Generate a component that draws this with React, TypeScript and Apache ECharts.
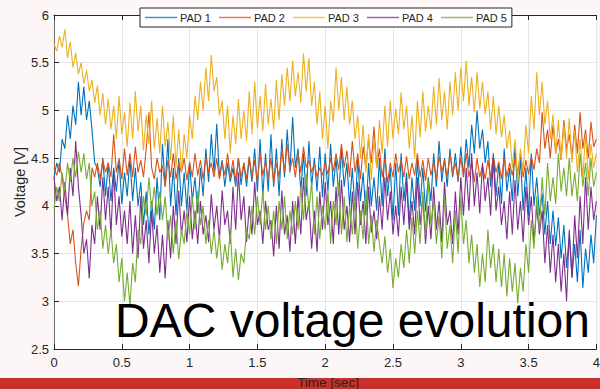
import React, { useEffect, useRef } from "react";
import * as echarts from "echarts";

// sample spacing of the recorded signals [sec]
const DT = 0.02;

const seriesNames = ["PAD 1", "PAD 2", "PAD 3", "PAD 4", "PAD 5"];
const seriesColors = ["#0072BD", "#D95319", "#EDB120", "#7E2F8E", "#77AC30"];
const xTicks = { min: 0, max: 4, interval: 0.5 };
const yTicks = { min: 2.5, max: 6, interval: 0.5 };

const pad1 = [
  4.30, 4.45, 4.35, 4.70, 4.60, 4.95, 4.70, 5.05, 4.85, 5.30,
  4.95, 5.25, 4.90, 5.10, 4.80, 4.45, 4.40, 4.20, 4.50, 4.10,
  4.45, 4.05, 4.40, 4.15, 4.48, 4.02, 4.35, 4.10, 4.50, 4.05,
  4.40, 4.00, 4.25, 3.80, 4.15, 3.70, 4.05, 3.75, 4.30, 3.85,
  4.65, 4.20, 4.70, 4.00, 4.40, 3.90, 4.50, 4.00, 4.35, 3.95,
  4.45, 4.05, 4.30, 3.92, 4.40, 4.10, 4.60, 4.25, 4.75, 4.35,
  4.86, 4.30, 4.48, 4.20, 4.45, 4.25, 4.40, 4.20, 4.50, 4.22,
  4.45, 4.20, 4.50, 4.25, 4.60, 4.15, 4.70, 4.10, 4.55, 4.15,
  4.75, 4.20, 4.60, 4.10, 4.70, 4.30, 4.80, 4.35, 4.93, 4.40,
  4.60, 4.15, 4.55, 4.10, 4.68, 4.20, 4.50, 4.15, 4.62, 4.09,
  4.55, 4.15, 4.65, 4.20, 4.50, 4.10, 4.60, 4.20, 4.45, 4.00,
  4.40, 3.95, 4.50, 4.05, 4.35, 3.90, 4.45, 4.00, 4.30, 3.95,
  4.50, 4.00, 4.60, 4.10, 4.40, 3.85, 4.45, 3.90, 4.55, 4.05,
  4.35, 3.82, 4.30, 3.95, 4.50, 4.00, 4.40, 3.94, 4.30, 4.05,
  4.55, 4.20, 4.68, 4.25, 4.50, 4.20, 4.60, 4.30, 4.55, 4.25,
  4.62, 4.30, 4.70, 4.40, 4.85, 4.55, 5.00, 4.60, 4.80, 4.45,
  4.68, 4.20, 4.55, 4.10, 4.45, 4.02, 4.60, 4.15, 4.40, 4.05,
  4.65, 4.10, 4.50, 3.95, 4.40, 3.90, 4.55, 4.00, 4.30, 3.90,
  4.13, 3.70, 4.05, 3.60, 3.95, 3.58, 3.88, 3.45, 3.80, 3.35,
  3.70, 3.25, 3.60, 3.20, 3.75, 3.14, 3.55, 3.30, 3.70, 3.40,
  3.90,
];

const pad2 = [
  4.40, 4.32, 4.45, 4.30, 4.10, 3.90, 3.60, 3.75, 3.40, 3.16,
  3.55, 3.82, 3.95, 3.85, 4.40, 4.30, 4.45, 4.28, 4.48, 4.35,
  4.45, 4.30, 4.75, 4.35, 4.50, 4.28, 4.60, 4.32, 4.55, 4.30,
  4.62, 4.35, 4.48, 4.30, 4.60, 4.98, 4.40, 4.28, 4.50, 4.35,
  4.42, 4.20, 4.48, 4.30, 4.55, 4.28, 4.45, 4.35, 4.50, 4.27,
  4.46, 4.30, 4.55, 4.32, 4.48, 4.28, 4.52, 4.35, 4.45, 4.30,
  4.50, 4.28, 4.45, 4.32, 4.55, 4.30, 4.48, 4.26, 4.50, 4.30,
  4.45, 4.28, 4.52, 4.30, 4.48, 4.25, 4.55, 4.32, 4.46, 4.28,
  4.50, 4.24, 4.45, 4.30, 4.60, 4.35, 4.65, 4.38, 4.50, 4.30,
  4.55, 4.35, 4.62, 4.40, 4.48, 4.35, 4.45, 4.30, 4.40, 4.32,
  4.45, 4.33, 4.50, 4.36, 4.55, 4.38, 4.65, 4.40, 4.58, 4.30,
  4.68, 4.35, 4.55, 4.28, 4.62, 4.40, 4.70, 4.45, 4.83, 4.40,
  4.60, 4.30, 4.50, 4.24, 4.45, 4.30, 4.55, 4.35, 4.48, 4.30,
  4.52, 4.28, 4.45, 4.32, 4.55, 4.30, 4.48, 4.26, 4.50, 4.32,
  4.46, 4.28, 4.52, 4.35, 4.48, 4.30, 4.55, 4.33, 4.45, 4.28,
  4.50, 4.32, 4.55, 4.30, 4.46, 4.25, 4.50, 4.30, 4.42, 4.28,
  4.48, 4.30, 4.52, 4.35, 4.46, 4.28, 4.50, 4.30, 4.45, 4.32,
  4.50, 4.35, 4.55, 4.30, 4.48, 4.33, 4.52, 4.38, 4.60, 4.45,
  4.98, 4.60, 4.80, 4.50, 4.85, 4.55, 4.70, 4.48, 4.90, 4.60,
  4.75, 4.50, 4.85, 4.55, 4.98, 4.60, 4.80, 4.50, 4.88, 4.62,
  4.70,
];

const pad3 = [
  5.70, 5.62, 5.78, 5.66, 5.85, 5.55, 5.72, 5.45, 5.60, 5.38,
  5.50, 5.28, 5.42, 5.20, 5.32, 5.08, 5.26, 4.95, 5.18, 4.85,
  5.12, 4.80, 5.05, 4.70, 5.15, 4.75, 4.98, 4.62, 5.08, 4.70,
  5.20, 4.78, 5.05, 4.58, 4.95, 4.65, 5.10, 4.60, 4.92, 4.55,
  5.05, 4.62, 4.88, 4.48, 4.95, 4.40, 4.80, 4.35, 4.75, 4.50,
  4.95, 4.70, 5.15, 4.90, 5.30, 5.00, 5.45, 5.10, 5.58, 5.20,
  5.35, 4.95, 5.10, 4.70, 5.05, 4.55, 4.95, 4.65, 5.12, 4.70,
  5.00, 4.68, 5.20, 4.75, 5.30, 4.82, 5.15, 4.78, 5.28, 4.85,
  5.12, 4.80, 5.32, 4.90, 5.38, 5.05, 5.45, 5.10, 5.52, 5.15,
  5.40, 5.08, 5.60, 5.20, 5.55, 5.05, 5.30, 4.85, 5.20, 4.70,
  5.05, 4.60, 5.10, 4.88, 5.45, 5.00, 5.35, 4.90, 5.25, 4.85,
  5.10, 4.70, 4.95, 4.50, 4.85, 4.35, 4.75, 4.27, 4.70, 4.40,
  4.90, 4.55, 5.05, 4.62, 5.10, 4.70, 5.02, 4.75, 5.19, 4.80,
  5.05, 4.60, 4.95, 4.50, 5.10, 4.72, 5.20, 4.78, 5.05, 4.80,
  5.25, 4.85, 5.34, 4.90, 5.20, 4.80, 5.30, 4.95, 5.40, 5.00,
  5.45, 5.10, 5.52, 5.05, 5.35, 4.98, 5.40, 5.02, 5.30, 4.96,
  5.20, 4.80, 5.15, 4.75, 5.05, 4.72, 4.95, 4.60, 4.79, 4.40,
  4.70, 4.25, 4.60, 4.35, 4.85, 4.55, 5.15, 4.80, 5.40, 4.95,
  5.30, 4.85, 5.10, 4.70, 4.96, 4.55, 4.90, 4.48, 4.85, 4.50,
  4.92, 4.45, 4.79, 4.35, 4.70, 4.30, 4.75, 4.28, 4.65, 4.40,
  4.55,
];

const pad4 = [
  4.30, 4.05, 4.20, 3.85, 4.25, 3.90, 4.40, 4.10, 4.68, 4.20,
  3.90, 3.50, 3.65, 3.24, 3.80, 3.60, 4.10, 3.75, 4.30, 3.85,
  4.20, 3.70, 4.37, 3.80, 4.10, 3.68, 3.95, 3.60, 4.05, 3.50,
  3.90, 3.45, 4.10, 3.55, 3.85, 3.40, 3.95, 3.50, 3.80, 3.30,
  3.70, 3.24, 3.85, 3.45, 4.00, 3.60, 4.16, 3.70, 3.95, 3.62,
  4.10, 3.65, 3.95, 3.60, 4.05, 3.70, 3.90, 3.62, 4.12, 3.75,
  4.00, 3.65, 4.16, 3.80, 3.95, 3.60, 4.20, 3.75, 4.35, 3.85,
  4.10, 3.62, 4.00, 3.70, 4.25, 3.80, 3.95, 3.60, 4.05, 3.75,
  3.85, 3.47, 4.00, 3.55, 4.16, 3.70, 3.90, 3.52, 4.05, 3.60,
  4.10, 3.70, 4.30, 3.85, 4.05, 3.55, 3.95, 3.52, 4.15, 3.75,
  4.25, 3.80, 4.05, 3.60, 4.20, 3.70, 4.27, 3.75, 4.00, 3.62,
  4.15, 3.70, 4.25, 3.80, 4.05, 3.60, 4.20, 3.72, 3.95, 3.65,
  4.10, 3.75, 4.30, 3.85, 4.15, 3.70, 4.00, 3.68, 4.20, 3.80,
  4.25, 3.75, 4.05, 3.70, 4.30, 3.80, 4.10, 3.60, 4.00, 3.65,
  4.20, 3.75, 4.05, 3.62, 4.25, 3.80, 3.95, 3.60, 4.15, 3.70,
  4.30, 3.90, 4.40, 3.95, 4.55, 4.00, 4.35, 3.92, 4.45, 4.05,
  4.30, 3.90, 4.50, 3.95, 4.20, 3.80, 4.05, 3.65, 4.15, 3.70,
  4.27, 3.75, 4.05, 3.62, 4.20, 3.80, 4.10, 3.60, 4.00, 3.70,
  3.95, 3.40, 3.80, 3.30, 3.70, 3.20, 3.60, 3.10, 3.50, 3.00,
  3.75, 3.25, 3.90, 3.45, 4.10, 3.60, 4.30, 3.75, 4.20, 3.85,
  4.05,
];

const pad5 = [
  3.97, 4.20, 4.05, 4.35, 4.15, 4.45, 4.25, 4.50, 4.30, 4.57,
  4.35, 4.55, 4.28, 4.45, 4.00, 4.15, 3.75, 3.95, 3.55, 3.80,
  3.50, 3.75, 3.40, 3.60, 3.20, 3.45, 3.00, 3.30, 2.95, 3.40,
  3.20, 3.75, 3.60, 4.10, 3.90, 4.30, 3.95, 4.20, 3.90, 4.15,
  3.85, 4.10, 3.65, 3.90, 3.50, 3.85, 3.44, 3.75, 3.60, 3.95,
  3.70, 4.10, 3.75, 4.16, 3.80, 4.00, 3.60, 3.85, 3.50, 3.75,
  3.45, 3.70, 3.33, 3.60, 3.40, 3.75, 3.25, 3.55, 3.22, 3.50,
  3.40, 3.75, 3.65, 4.00, 3.70, 4.10, 3.80, 4.16, 3.75, 4.00,
  3.65, 3.95, 3.60, 4.05, 3.75, 4.10, 3.65, 3.95, 3.70, 4.05,
  3.75, 4.20, 3.85, 4.34, 3.95, 4.25, 3.70, 4.10, 3.65, 4.00,
  3.75, 4.15, 3.60, 4.05, 3.80, 4.25, 3.70, 4.10, 3.62, 4.00,
  3.70, 4.10, 3.55, 3.95, 3.65, 4.16, 3.60, 3.90, 3.52, 3.85,
  3.60, 3.40, 3.68, 3.30, 3.55, 3.14, 3.45, 3.25, 3.60, 3.35,
  3.75, 3.40, 3.88, 3.50, 3.95, 3.60, 4.15, 3.70, 4.27, 3.80,
  4.05, 3.60, 3.90, 3.45, 4.10, 3.55, 3.80, 3.40, 3.95, 3.50,
  4.10, 3.60, 3.85, 3.40, 3.70, 3.30, 3.60, 3.15, 3.50, 3.20,
  3.75, 3.35, 3.60, 3.20, 3.55, 3.15, 3.50, 3.05, 3.45, 3.10,
  3.40, 2.98, 3.35, 3.10, 3.60, 3.30, 3.85, 3.55, 4.10, 3.75,
  4.30, 3.90, 4.45, 4.05, 4.30, 4.02, 4.55, 4.15, 4.40, 4.10,
  4.50, 4.10, 4.35, 4.05, 4.55, 4.20, 4.45, 4.10, 4.50, 4.20,
  4.35,
];

const allSeries = [pad1, pad2, pad3, pad4, pad5];

const AXIS = "#262626";
const FONT = "'Liberation Sans', Arial, Helvetica, sans-serif";

export default function App() {
  const ref = useRef<HTMLDivElement>(null);

  useEffect(() => {
    if (!ref.current) return;
    const chart = echarts.init(ref.current, undefined, { renderer: "svg" });
    const series = allSeries.map((vals, k) => ({
      name: seriesNames[k],
      type: "line",
      xAxisIndex: 0,
      yAxisIndex: 0,
      data: vals.map((v, i) => [Math.round(i * DT * 100) / 100, v]),
      symbol: "none",
      showSymbol: false,
      lineStyle: { color: seriesColors[k], width: 1.1 },
      itemStyle: { color: seriesColors[k] },
      clip: true,
    }));

    chart.setOption({
      animation: false,
      backgroundColor: "transparent",
      textStyle: { fontFamily: FONT },
      grid: {
        left: 54,
        right: 0,
        top: 15,
        bottom: 40,
        show: true,
        backgroundColor: "#ffffff",
        borderWidth: 0,
      },
      legend: {
        data: seriesNames.map((n, k) => ({
          name: n,
          icon: "rect",
          itemStyle: { color: seriesColors[k], opacity: 0.75 },
        })),
        left: 140,
        top: 8,
        orient: "horizontal",
        itemWidth: 32,
        itemHeight: 1.5,
        itemGap: 8,
        padding: [4, 5],
        backgroundColor: "#ffffff",
        borderColor: AXIS,
        borderWidth: 1,
        borderRadius: 0,
        textStyle: { fontSize: 11, color: AXIS, fontFamily: FONT, padding: [0, 0, 0, -2] },
      },
      xAxis: [
        {
          type: "value",
          min: xTicks.min,
          max: xTicks.max,
          interval: xTicks.interval,
          position: "bottom",
          axisLine: { show: true, onZero: false, lineStyle: { color: AXIS, width: 1 } },
          axisTick: { show: true, inside: true, length: 5, lineStyle: { color: AXIS } },
          axisLabel: { color: AXIS, fontSize: 13, margin: 7, fontFamily: FONT },
          splitLine: { show: true, lineStyle: { color: "#e4e4e4", width: 1 } },
        },
        {
          type: "value",
          min: xTicks.min,
          max: xTicks.max,
          interval: xTicks.interval,
          position: "top",
          axisLine: { show: true, onZero: false, lineStyle: { color: AXIS, width: 1 } },
          axisTick: { show: true, inside: true, length: 5, lineStyle: { color: AXIS } },
          axisLabel: { show: false },
          splitLine: { show: false },
        },
      ],
      yAxis: [
        {
          type: "value",
          min: yTicks.min,
          max: yTicks.max,
          interval: yTicks.interval,
          axisLine: { show: true, onZero: false, lineStyle: { color: "#6e6e6e", width: 1 } },
          axisTick: { show: true, inside: true, length: 5, lineStyle: { color: AXIS } },
          axisLabel: { color: AXIS, fontSize: 13, margin: 5, fontFamily: FONT },
          splitLine: { show: true, lineStyle: { color: "#e4e4e4", width: 1 } },
        },
      ],
      series,
      graphic: [
        {
          type: "rect",
          z: 100,
          shape: { x: 0, y: 378, width: 603, height: 11 },
          style: { fill: "#c9302c" },
        },
        {
          type: "text",
          z: 101,
          x: 328,
          y: 382,
          style: {
            text: "Time [sec]",
            fill: AXIS,
            font: `13.5px ${FONT}`,
            align: "center",
            verticalAlign: "middle",
          },
        },
        {
          type: "text",
          z: 101,
          x: 20,
          y: 182,
          rotation: Math.PI / 2,
          style: {
            text: "Voltage [V]",
            fill: AXIS,
            font: `14.5px ${FONT}`,
            align: "center",
            verticalAlign: "middle",
          },
        },
        {
          type: "text",
          z: 101,
          x: 115,
          y: 320,
          style: {
            text: "DAC voltage evolution",
            fill: "#000000",
            font: `48px ${FONT}`,
            align: "left",
            verticalAlign: "middle",
          },
        },
      ],
    });
    return () => chart.dispose();
  }, []);

  return (
    <div
      style={{
        position: "absolute",
        left: 0,
        top: 0,
        width: 600,
        height: 389,
        overflow: "hidden",
        background: "#fcf7f6",
      }}
    >
      <div ref={ref} style={{ width: 603, height: 389 }} />
    </div>
  );
}
